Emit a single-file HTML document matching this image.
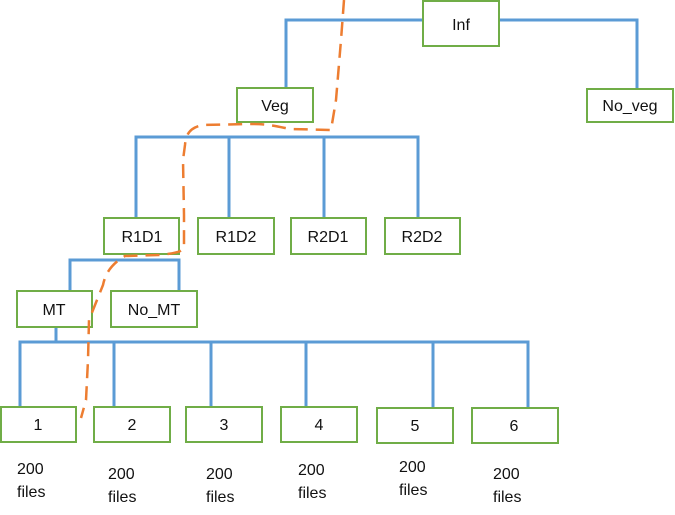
<!DOCTYPE html>
<html><head><meta charset="utf-8"><style>
html,body{margin:0;padding:0;background:#fff;}
svg text{font-family:"Liberation Sans",sans-serif;font-size:16px;fill:#111;}
</style></head><body>
<svg width="675" height="510" viewBox="0 0 675 510" xmlns="http://www.w3.org/2000/svg">
<g stroke="#5b9bd5" stroke-width="3" fill="none">
<polyline points="286,88 286,20 637,20 637,90"/>
<polyline points="136,217 136,137 418,137 418,217"/>
<line x1="229" y1="137" x2="229" y2="217"/>
<line x1="324" y1="137" x2="324" y2="217"/>
<polyline points="70,291 70,260 179,260 179,291"/>
<line x1="56" y1="327" x2="56" y2="342"/>
<polyline points="20,407 20,342 528,342 528,407"/>
<line x1="114" y1="342" x2="114" y2="407"/>
<line x1="211" y1="342" x2="211" y2="407"/>
<line x1="306" y1="342" x2="306" y2="410"/>
<line x1="433" y1="342" x2="433" y2="407"/>
</g>
<g stroke="#70ad47" stroke-width="2" fill="#fff">
<rect x="423" y="1" width="76" height="45"/>
<rect x="237" y="88" width="76" height="34"/>
<rect x="587" y="89" width="86" height="33"/>
<rect x="104" y="218" width="75" height="36"/>
<rect x="198" y="218" width="76" height="36"/>
<rect x="291" y="218" width="75" height="36"/>
<rect x="385" y="218" width="75" height="36"/>
<rect x="17" y="291" width="75" height="36"/>
<rect x="111" y="291" width="86" height="36"/>
<rect x="1" y="407" width="75" height="35"/>
<rect x="94" y="407" width="76" height="35"/>
<rect x="186" y="407" width="76" height="35"/>
<rect x="281" y="407" width="76" height="35"/>
<rect x="377" y="408" width="76" height="35"/>
<rect x="472" y="408" width="86" height="35"/>
</g>
<g text-anchor="middle">
<text x="461" y="30">Inf</text>
<text x="275" y="111">Veg</text>
<text x="630" y="111">No_veg</text>
<text x="142" y="242">R1D1</text>
<text x="236" y="242">R1D2</text>
<text x="328" y="242">R2D1</text>
<text x="422" y="242">R2D2</text>
<text x="54" y="315">MT</text>
<text x="154" y="315">No_MT</text>
<text x="38" y="430">1</text>
<text x="132" y="430">2</text>
<text x="224" y="430">3</text>
<text x="319" y="430">4</text>
<text x="415" y="431">5</text>
<text x="514" y="431">6</text>
</g>
<g>
<text x="17" y="474">200</text><text x="17" y="497">files</text>
<text x="108" y="479">200</text><text x="108" y="502">files</text>
<text x="206" y="479">200</text><text x="206" y="502">files</text>
<text x="298" y="475">200</text><text x="298" y="498">files</text>
<text x="399" y="472">200</text><text x="399" y="495">files</text>
<text x="493" y="479">200</text><text x="493" y="502">files</text>
</g>
<path d="M344,0 L341,40 L336,100 L331,130 L290,129 C275,126 268,124 250,124 L203,125 C192,127 186,132 185,145 L183,160 L184,215 L184,248 C180,253 174,253 160,255 L125,256 C115,262 106,270 103,285 L97,300 L89,320 L88,360 L86,400 L81,418" stroke="#ed7d31" stroke-width="2.5" fill="none" stroke-dasharray="14,8"/>
</svg>
</body></html>
